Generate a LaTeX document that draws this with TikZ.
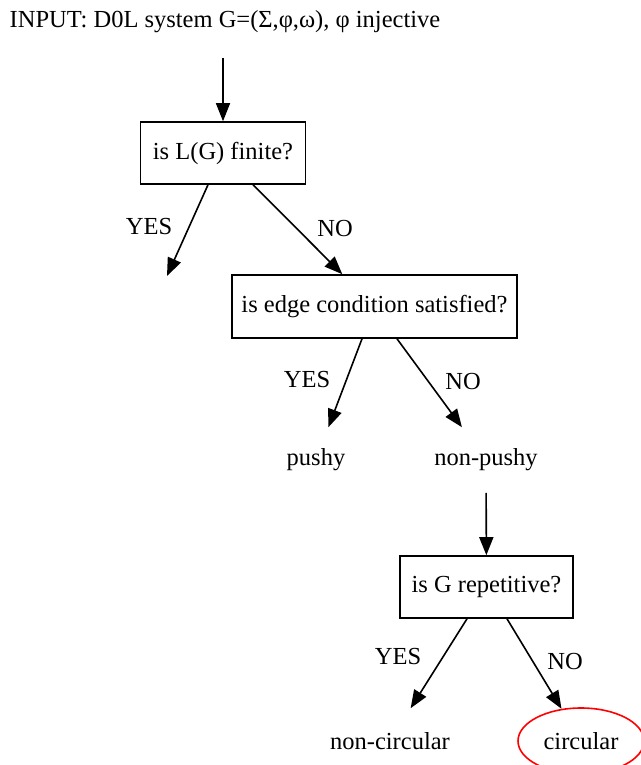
\documentclass[tikz,border=0pt]{standalone}
\usepackage{fontspec}
\setmainfont{Liberation Serif}
\usetikzlibrary{arrows.meta,shapes}

\begin{document}
\begin{tikzpicture}[x=1pt,y=-1pt,>={Triangle[length=18pt,width=14pt]},line width=1.6pt,font=\fontsize{24.5}{28}\selectfont]
\tikzstyle{test}=[rectangle,draw,inner sep=0pt,minimum height=62pt]
\tikzstyle{leaf}=[inner sep=0pt,minimum height=64pt]
  \useasboundingbox(0,0)rectangle(640,765);
  \node(inp)at(225,22)[inner sep=0pt,minimum height=70pt]{INPUT: D0L system G=(Σ,φ,ω), φ injective};
  \node(b1)at(223,153)[test,minimum width=165pt]{is L(G) finite?};
  \coordinate(y1)at(167,276);
  \node(b2)at(374.5,306.5)[test,minimum width=285pt,minimum height=63pt]{is edge condition satisfied?};
  \node(pushy)at(316,460)[leaf]{pushy};
  \node(npushy)at(486,460)[leaf]{non-pushy};
  \node(b3)at(486.5,587)[test,minimum width=173pt]{is G repetitive?};
  \node(ncirc)at(390,741)[leaf]{non-circular};
  \node(circ)at(581,741)[ellipse,draw=red,inner sep=0pt,minimum width=126pt,minimum height=66pt]{circular};
  % edge labels
  \node(l1)at(149,227){YES};
  \node(l2)at(335,229){NO};
  \node(l3)at(307,380){YES};
  \node(l4)at(463,382){NO};
  \node(l5)at(398,657){YES};
  \node(l6)at(565,662){NO};
  \draw[->](inp.south-|b1)--(b1);
  \draw[->]([xshift=-15pt]b1.south)--(y1);
  \draw[->]([xshift=30pt]b1.south)--(b2);
  \draw[->]([xshift=-12.5pt]b2.south)--(pushy);
  \draw[->]([xshift=22.5pt]b2.south)--(npushy);
  \draw[->](npushy)--(b3);
  \draw[->]([xshift=-19.5pt]b3.south)--(ncirc);
  \draw[->]([xshift=20.5pt]b3.south)--(circ);
\end{tikzpicture}
\end{document}
